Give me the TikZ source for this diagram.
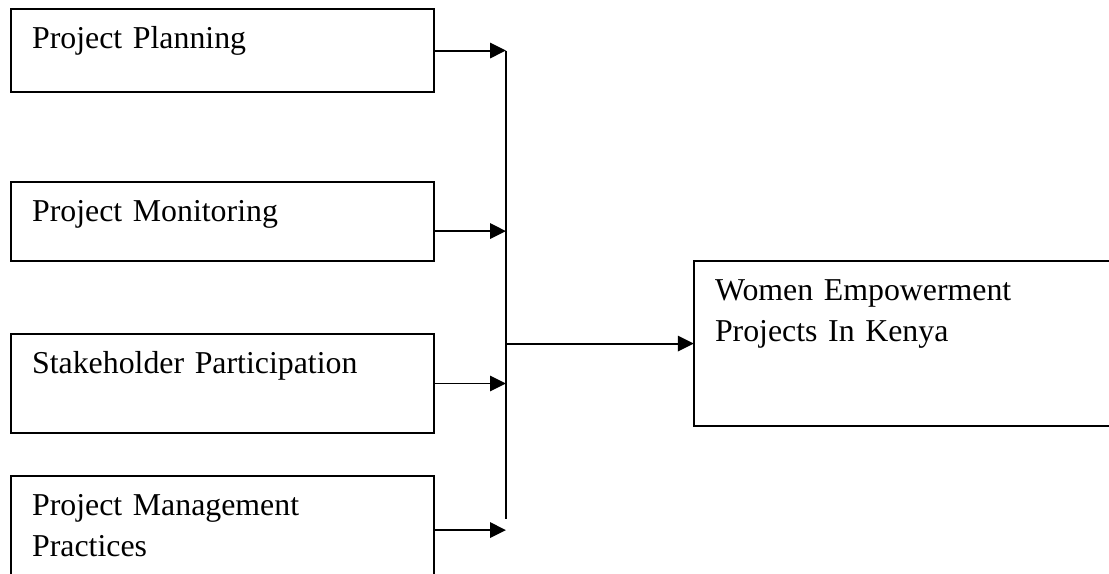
\documentclass[tikz,border=0pt]{standalone}
\usepackage{fontspec}
\setmainfont{Liberation Serif}
\usetikzlibrary{positioning,arrows.meta}

\begin{document}
\begin{tikzpicture}[main/.style = {draw, line width=0.75pt, anchor=north west, align=left, text width=143.4pt, inner xsep=8pt, inner ysep=0pt, outer sep=0pt, text height=15pt, font=\fontsize{12pt}{15.5pt}\selectfont}, arr/.style = {line width=0.75pt, -{Triangle[length=6pt,width=5.8pt]}}] 
\useasboundingbox (0,0) rectangle (418pt,-216pt);
\clip (0,0) rectangle (418pt,-216pt);
\node[main, text depth=16.3pt] (1) at (4.1pt,-3.4pt) {Project Planning}; 
\node[main, text depth=14.8pt] (2) [below=33.9pt of 1] {Project Monitoring};
\node[main, text depth=22.3pt] (3) [below=27.5pt of 2] {Stakeholder Participation};
\node[main, text depth=25.8pt] (4) [below=16.2pt of 3] {Project Management\\Practices};
\node[main, text width=150pt, text depth=47.2pt] (5) [below right=0pt and 98pt of 2] {Women Empowerment\\Projects In Kenya};
\coordinate[right=27.2pt of 1] (a1);
\coordinate (a2) at ([shift={(27.2pt,-3.6pt)}]2.east);
\coordinate[right=27.2pt of 3] (a3);
\coordinate[right=27.2pt of 4] (a4);
\coordinate[above=4.2pt of a4] (b);
\draw[line width=0.75pt] (a1) -- (b);
\draw[arr] (1) -- (a1);
\draw[arr] (2.east |- a2) -- (a2);
\draw[arr] (3) -- (a3);
\draw[arr] (4) -- (a4);
\draw[arr] (a1 |- 5) -- (5);
\end{tikzpicture}
\end{document}
